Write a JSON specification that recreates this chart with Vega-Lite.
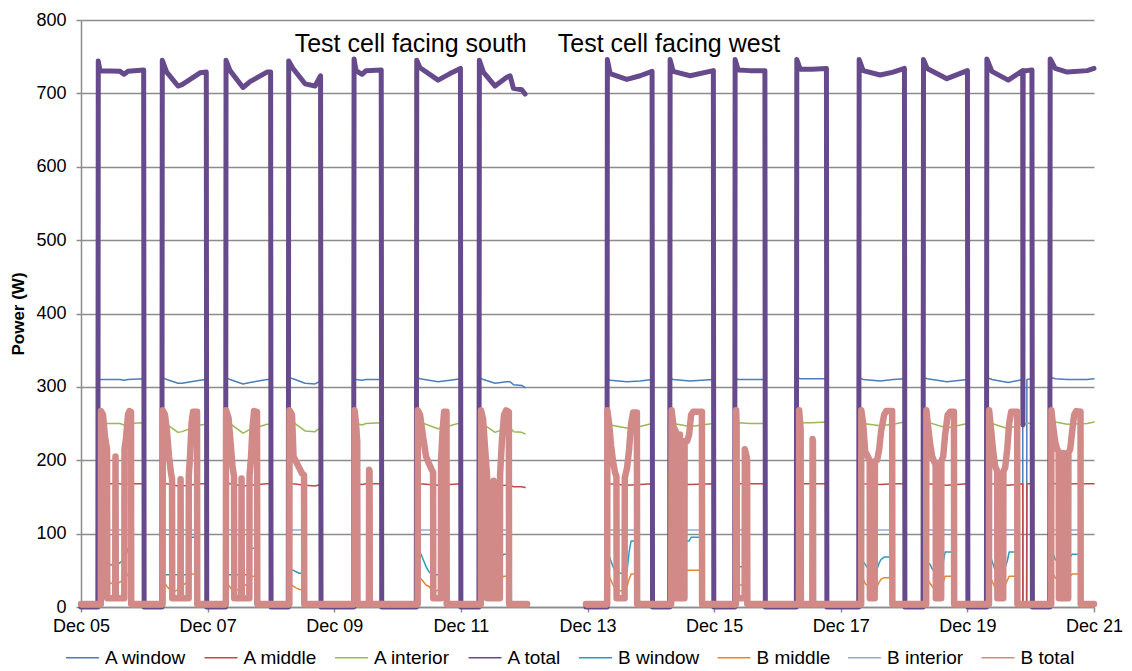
{
"$schema": "https://vega.github.io/schema/vega-lite/v6.json",
"width": 1013,
"height": 587,
"autosize": {"type": "none"},
"padding": {"left": 81, "top": 20, "right": 38, "bottom": 64},
"background": "white",
"config": {"view": {"stroke": null}, "font": "Liberation Sans", "line": {"strokeJoin": "round", "strokeCap": "round"}},
"datasets": {
"A": [
{"day":5.000,"A window":0,"A middle":0,"A interior":0,"A total":0},
{"day":5.266,"A window":0,"A middle":0,"A interior":0,"A total":0},
{"day":5.273,"A window":313,"A middle":170,"A interior":253,"A total":744},
{"day":5.300,"A window":310,"A middle":168,"A interior":250,"A total":731},
{"day":5.616,"A window":310,"A middle":168,"A interior":250,"A total":730},
{"day":5.679,"A window":309,"A middle":167,"A interior":248,"A total":726},
{"day":5.742,"A window":310,"A middle":168,"A interior":250,"A total":730},
{"day":5.990,"A window":311,"A middle":168,"A interior":251,"A total":732},
{"day":5.997,"A window":0,"A middle":0,"A interior":0,"A total":0},
{"day":6.277,"A window":0,"A middle":0,"A interior":0,"A total":0},
{"day":6.284,"A window":313,"A middle":170,"A interior":253,"A total":745},
{"day":6.354,"A window":310,"A middle":168,"A interior":249,"A total":729},
{"day":6.532,"A window":305,"A middle":165,"A interior":238,"A total":710},
{"day":6.596,"A window":305,"A middle":165,"A interior":239,"A total":712},
{"day":6.880,"A window":309,"A middle":168,"A interior":248,"A total":728},
{"day":6.979,"A window":310,"A middle":168,"A interior":249,"A total":729},
{"day":6.986,"A window":0,"A middle":0,"A interior":0,"A total":0},
{"day":7.284,"A window":0,"A middle":0,"A interior":0,"A total":0},
{"day":7.291,"A window":313,"A middle":170,"A interior":253,"A total":745},
{"day":7.354,"A window":310,"A middle":168,"A interior":250,"A total":731},
{"day":7.559,"A window":304,"A middle":165,"A interior":237,"A total":708},
{"day":7.670,"A window":306,"A middle":166,"A interior":242,"A total":716},
{"day":7.938,"A window":310,"A middle":168,"A interior":249,"A total":729},
{"day":7.995,"A window":310,"A middle":168,"A interior":249,"A total":729},
{"day":8.002,"A window":0,"A middle":0,"A interior":0,"A total":0},
{"day":8.274,"A window":0,"A middle":0,"A interior":0,"A total":0},
{"day":8.281,"A window":313,"A middle":170,"A interior":253,"A total":744},
{"day":8.349,"A window":311,"A middle":168,"A interior":252,"A total":734},
{"day":8.539,"A window":305,"A middle":166,"A interior":240,"A total":713},
{"day":8.697,"A window":304,"A middle":165,"A interior":239,"A total":710},
{"day":8.784,"A window":308,"A middle":167,"A interior":245,"A total":724},
{"day":8.791,"A window":0,"A middle":0,"A interior":0,"A total":0},
{"day":9.306,"A window":0,"A middle":0,"A interior":0,"A total":0},
{"day":9.313,"A window":313,"A middle":170,"A interior":253,"A total":747},
{"day":9.344,"A window":310,"A middle":168,"A interior":250,"A total":731},
{"day":9.439,"A window":309,"A middle":167,"A interior":248,"A total":726},
{"day":9.502,"A window":310,"A middle":168,"A interior":250,"A total":731},
{"day":9.742,"A window":310,"A middle":168,"A interior":251,"A total":732},
{"day":9.750,"A window":0,"A middle":0,"A interior":0,"A total":0},
{"day":10.296,"A window":0,"A middle":0,"A interior":0,"A total":0},
{"day":10.303,"A window":313,"A middle":170,"A interior":253,"A total":745},
{"day":10.355,"A window":311,"A middle":168,"A interior":252,"A total":735},
{"day":10.640,"A window":307,"A middle":166,"A interior":243,"A total":718},
{"day":10.829,"A window":309,"A middle":167,"A interior":247,"A total":727},
{"day":10.993,"A window":311,"A middle":168,"A interior":251,"A total":734},
{"day":11.000,"A window":0,"A middle":0,"A interior":0,"A total":0},
{"day":11.285,"A window":0,"A middle":0,"A interior":0,"A total":0},
{"day":11.292,"A window":313,"A middle":170,"A interior":253,"A total":745},
{"day":11.355,"A window":310,"A middle":168,"A interior":249,"A total":729},
{"day":11.540,"A window":305,"A middle":165,"A interior":238,"A total":710},
{"day":11.725,"A window":307,"A middle":166,"A interior":244,"A total":722},
{"day":11.777,"A window":307,"A middle":166,"A interior":245,"A total":724},
{"day":11.830,"A window":303,"A middle":164,"A interior":239,"A total":707},
{"day":11.962,"A window":302,"A middle":164,"A interior":238,"A total":705},
{"day":12.014,"A window":299,"A middle":163,"A interior":236,"A total":699},
{"day":12.500,"A window":null,"A middle":null,"A interior":null,"A total":null},
{"day":12.975,"A window":0,"A middle":0,"A interior":0,"A total":0},
{"day":13.307,"A window":0,"A middle":0,"A interior":0,"A total":0},
{"day":13.314,"A window":313,"A middle":170,"A interior":253,"A total":746},
{"day":13.357,"A window":309,"A middle":168,"A interior":248,"A total":727},
{"day":13.621,"A window":307,"A middle":166,"A interior":244,"A total":719},
{"day":13.831,"A window":308,"A middle":167,"A interior":246,"A total":724},
{"day":14.020,"A window":310,"A middle":168,"A interior":250,"A total":730},
{"day":14.027,"A window":0,"A middle":0,"A interior":0,"A total":0},
{"day":14.298,"A window":0,"A middle":0,"A interior":0,"A total":0},
{"day":14.305,"A window":313,"A middle":170,"A interior":253,"A total":746},
{"day":14.352,"A window":310,"A middle":168,"A interior":250,"A total":730},
{"day":14.621,"A window":308,"A middle":167,"A interior":246,"A total":724},
{"day":14.988,"A window":310,"A middle":168,"A interior":250,"A total":731},
{"day":14.995,"A window":0,"A middle":0,"A interior":0,"A total":0},
{"day":15.325,"A window":0,"A middle":0,"A interior":0,"A total":0},
{"day":15.332,"A window":313,"A middle":170,"A interior":253,"A total":746},
{"day":15.380,"A window":310,"A middle":168,"A interior":251,"A total":732},
{"day":15.569,"A window":310,"A middle":168,"A interior":250,"A total":731},
{"day":15.802,"A window":310,"A middle":168,"A interior":250,"A total":731},
{"day":15.809,"A window":0,"A middle":0,"A interior":0,"A total":0},
{"day":16.299,"A window":0,"A middle":0,"A interior":0,"A total":0},
{"day":16.306,"A window":313,"A middle":170,"A interior":253,"A total":746},
{"day":16.359,"A window":311,"A middle":168,"A interior":251,"A total":733},
{"day":16.548,"A window":311,"A middle":168,"A interior":251,"A total":733},
{"day":16.774,"A window":311,"A middle":168,"A interior":252,"A total":734},
{"day":16.781,"A window":0,"A middle":0,"A interior":0,"A total":0},
{"day":17.284,"A window":0,"A middle":0,"A interior":0,"A total":0},
{"day":17.291,"A window":313,"A middle":170,"A interior":253,"A total":746},
{"day":17.354,"A window":310,"A middle":168,"A interior":250,"A total":731},
{"day":17.622,"A window":308,"A middle":167,"A interior":247,"A total":725},
{"day":17.828,"A window":310,"A middle":168,"A interior":249,"A total":729},
{"day":18.006,"A window":311,"A middle":168,"A interior":252,"A total":734},
{"day":18.013,"A window":0,"A middle":0,"A interior":0,"A total":0},
{"day":18.300,"A window":0,"A middle":0,"A interior":0,"A total":0},
{"day":18.307,"A window":313,"A middle":170,"A interior":253,"A total":746},
{"day":18.365,"A window":311,"A middle":168,"A interior":252,"A total":734},
{"day":18.676,"A window":307,"A middle":166,"A interior":244,"A total":720},
{"day":19.001,"A window":310,"A middle":168,"A interior":250,"A total":731},
{"day":19.008,"A window":0,"A middle":0,"A interior":0,"A total":0},
{"day":19.301,"A window":0,"A middle":0,"A interior":0,"A total":0},
{"day":19.308,"A window":313,"A middle":170,"A interior":253,"A total":747},
{"day":19.387,"A window":310,"A middle":168,"A interior":250,"A total":730},
{"day":19.645,"A window":306,"A middle":166,"A interior":243,"A total":718},
{"day":19.874,"A window":310,"A middle":168,"A interior":250,"A total":731},
{"day":19.877,"A window":0,"A middle":0,"A interior":248,"A total":248},
{"day":19.881,"A window":0,"A middle":0,"A interior":248,"A total":731},
{"day":19.936,"A window":0,"A middle":0,"A interior":250,"A total":731},
{"day":19.940,"A window":310,"A middle":168,"A interior":250,"A total":731},
{"day":20.020,"A window":311,"A middle":168,"A interior":251,"A total":732},
{"day":20.027,"A window":0,"A middle":0,"A interior":0,"A total":0},
{"day":20.301,"A window":0,"A middle":0,"A interior":0,"A total":0},
{"day":20.308,"A window":313,"A middle":170,"A interior":253,"A total":747},
{"day":20.387,"A window":311,"A middle":168,"A interior":252,"A total":734},
{"day":20.577,"A window":310,"A middle":168,"A interior":249,"A total":729},
{"day":20.893,"A window":310,"A middle":168,"A interior":250,"A total":731},
{"day":21.000,"A window":311,"A middle":168,"A interior":252,"A total":734}
],
"B": [
{"day":5.000,"B window":0,"B middle":0,"B interior":3,"B total":4},
{"day":5.313,"B window":0,"B middle":0,"B interior":3,"B total":4},
{"day":5.316,"B window":70,"B middle":40,"B interior":105,"B total":267},
{"day":5.348,"B window":68,"B middle":40,"B interior":105,"B total":262},
{"day":5.379,"B window":72,"B middle":42,"B interior":105,"B total":232},
{"day":5.411,"B window":60,"B middle":35,"B interior":105,"B total":215},
{"day":5.415,"B window":60,"B middle":35,"B interior":105,"B total":12},
{"day":5.540,"B window":55,"B middle":30,"B interior":105,"B total":12},
{"day":5.545,"B window":55,"B middle":30,"B interior":105,"B total":205},
{"day":5.550,"B window":56,"B middle":30,"B interior":105,"B total":12},
{"day":5.684,"B window":65,"B middle":38,"B interior":105,"B total":12},
{"day":5.687,"B window":65,"B middle":38,"B interior":105,"B total":215},
{"day":5.711,"B window":70,"B middle":40,"B interior":105,"B total":230},
{"day":5.742,"B window":80,"B middle":45,"B interior":105,"B total":262},
{"day":5.766,"B window":80,"B middle":45,"B interior":105,"B total":267},
{"day":5.790,"B window":80,"B middle":45,"B interior":105,"B total":266},
{"day":5.793,"B window":0,"B middle":0,"B interior":3,"B total":4},
{"day":6.289,"B window":0,"B middle":0,"B interior":3,"B total":4},
{"day":6.292,"B window":44,"B middle":35,"B interior":105,"B total":268},
{"day":6.327,"B window":44,"B middle":32,"B interior":105,"B total":262},
{"day":6.359,"B window":44,"B middle":28,"B interior":105,"B total":238},
{"day":6.390,"B window":44,"B middle":25,"B interior":105,"B total":205},
{"day":6.422,"B window":44,"B middle":22,"B interior":105,"B total":182},
{"day":6.438,"B window":44,"B middle":20,"B interior":105,"B total":175},
{"day":6.441,"B window":44,"B middle":20,"B interior":105,"B total":12},
{"day":6.569,"B window":44,"B middle":25,"B interior":105,"B total":12},
{"day":6.573,"B window":44,"B middle":25,"B interior":105,"B total":174},
{"day":6.578,"B window":44,"B middle":28,"B interior":105,"B total":12},
{"day":6.700,"B window":44,"B middle":35,"B interior":105,"B total":12},
{"day":6.703,"B window":95,"B middle":40,"B interior":105,"B total":180},
{"day":6.722,"B window":95,"B middle":42,"B interior":105,"B total":205},
{"day":6.746,"B window":95,"B middle":45,"B interior":105,"B total":250},
{"day":6.769,"B window":95,"B middle":45,"B interior":105,"B total":266},
{"day":6.833,"B window":95,"B middle":45,"B interior":105,"B total":266},
{"day":6.836,"B window":0,"B middle":0,"B interior":3,"B total":4},
{"day":7.288,"B window":0,"B middle":0,"B interior":3,"B total":4},
{"day":7.291,"B window":44,"B middle":32,"B interior":105,"B total":268},
{"day":7.330,"B window":44,"B middle":30,"B interior":105,"B total":258},
{"day":7.362,"B window":44,"B middle":26,"B interior":105,"B total":225},
{"day":7.393,"B window":44,"B middle":22,"B interior":105,"B total":192},
{"day":7.417,"B window":44,"B middle":22,"B interior":105,"B total":178},
{"day":7.420,"B window":44,"B middle":22,"B interior":105,"B total":12},
{"day":7.531,"B window":44,"B middle":25,"B interior":105,"B total":12},
{"day":7.536,"B window":44,"B middle":25,"B interior":105,"B total":175},
{"day":7.540,"B window":44,"B middle":28,"B interior":105,"B total":12},
{"day":7.659,"B window":44,"B middle":32,"B interior":105,"B total":12},
{"day":7.662,"B window":80,"B middle":38,"B interior":105,"B total":180},
{"day":7.686,"B window":80,"B middle":40,"B interior":105,"B total":205},
{"day":7.709,"B window":80,"B middle":42,"B interior":105,"B total":245},
{"day":7.733,"B window":80,"B middle":42,"B interior":105,"B total":267},
{"day":7.780,"B window":80,"B middle":42,"B interior":105,"B total":266},
{"day":7.784,"B window":0,"B middle":0,"B interior":3,"B total":4},
{"day":8.291,"B window":0,"B middle":0,"B interior":3,"B total":4},
{"day":8.294,"B window":50,"B middle":30,"B interior":105,"B total":268},
{"day":8.333,"B window":50,"B middle":30,"B interior":105,"B total":262},
{"day":8.357,"B window":50,"B middle":28,"B interior":105,"B total":205},
{"day":8.397,"B window":48,"B middle":26,"B interior":105,"B total":198},
{"day":8.444,"B window":46,"B middle":24,"B interior":105,"B total":190},
{"day":8.491,"B window":46,"B middle":24,"B interior":105,"B total":182},
{"day":8.523,"B window":46,"B middle":24,"B interior":105,"B total":180},
{"day":8.526,"B window":0,"B middle":0,"B interior":3,"B total":4},
{"day":9.318,"B window":0,"B middle":0,"B interior":3,"B total":4},
{"day":9.321,"B window":50,"B middle":28,"B interior":105,"B total":268},
{"day":9.344,"B window":50,"B middle":28,"B interior":105,"B total":250},
{"day":9.363,"B window":50,"B middle":28,"B interior":105,"B total":225},
{"day":9.367,"B window":0,"B middle":0,"B interior":3,"B total":4},
{"day":9.548,"B window":0,"B middle":0,"B interior":3,"B total":4},
{"day":9.551,"B window":0,"B middle":0,"B interior":3,"B total":187},
{"day":9.558,"B window":0,"B middle":0,"B interior":3,"B total":185},
{"day":9.561,"B window":0,"B middle":0,"B interior":3,"B total":4},
{"day":10.318,"B window":0,"B middle":0,"B interior":3,"B total":4},
{"day":10.321,"B window":75,"B middle":40,"B interior":105,"B total":268},
{"day":10.355,"B window":75,"B middle":40,"B interior":105,"B total":262},
{"day":10.403,"B window":65,"B middle":35,"B interior":105,"B total":232},
{"day":10.450,"B window":55,"B middle":30,"B interior":105,"B total":205},
{"day":10.498,"B window":48,"B middle":28,"B interior":105,"B total":195},
{"day":10.545,"B window":44,"B middle":22,"B interior":105,"B total":186},
{"day":10.561,"B window":44,"B middle":20,"B interior":105,"B total":184},
{"day":10.564,"B window":44,"B middle":20,"B interior":105,"B total":12},
{"day":10.684,"B window":44,"B middle":25,"B interior":105,"B total":12},
{"day":10.687,"B window":50,"B middle":30,"B interior":105,"B total":200},
{"day":10.711,"B window":70,"B middle":38,"B interior":105,"B total":240},
{"day":10.735,"B window":70,"B middle":40,"B interior":105,"B total":266},
{"day":10.773,"B window":70,"B middle":40,"B interior":105,"B total":266},
{"day":10.776,"B window":0,"B middle":0,"B interior":3,"B total":4},
{"day":11.316,"B window":0,"B middle":0,"B interior":3,"B total":4},
{"day":11.319,"B window":70,"B middle":40,"B interior":105,"B total":268},
{"day":11.351,"B window":70,"B middle":40,"B interior":105,"B total":256},
{"day":11.382,"B window":55,"B middle":30,"B interior":105,"B total":217},
{"day":11.414,"B window":44,"B middle":22,"B interior":105,"B total":178},
{"day":11.417,"B window":44,"B middle":22,"B interior":105,"B total":12},
{"day":11.512,"B window":44,"B middle":20,"B interior":105,"B total":12},
{"day":11.517,"B window":44,"B middle":20,"B interior":105,"B total":172},
{"day":11.521,"B window":44,"B middle":20,"B interior":105,"B total":12},
{"day":11.616,"B window":44,"B middle":30,"B interior":105,"B total":12},
{"day":11.619,"B window":50,"B middle":32,"B interior":105,"B total":180},
{"day":11.651,"B window":70,"B middle":40,"B interior":105,"B total":230},
{"day":11.682,"B window":72,"B middle":42,"B interior":105,"B total":262},
{"day":11.714,"B window":72,"B middle":42,"B interior":105,"B total":268},
{"day":11.758,"B window":72,"B middle":42,"B interior":105,"B total":266},
{"day":11.761,"B window":0,"B middle":0,"B interior":3,"B total":4},
{"day":12.046,"B window":0,"B middle":0,"B interior":3,"B total":4},
{"day":12.500,"B window":null,"B middle":null,"B interior":null,"B total":null},
{"day":12.975,"B window":0,"B middle":0,"B interior":3,"B total":4},
{"day":13.311,"B window":0,"B middle":0,"B interior":3,"B total":4},
{"day":13.314,"B window":72,"B middle":45,"B interior":105,"B total":268},
{"day":13.341,"B window":70,"B middle":42,"B interior":105,"B total":250},
{"day":13.373,"B window":62,"B middle":36,"B interior":105,"B total":220},
{"day":13.404,"B window":55,"B middle":30,"B interior":105,"B total":198},
{"day":13.436,"B window":49,"B middle":25,"B interior":105,"B total":183},
{"day":13.457,"B window":47,"B middle":22,"B interior":105,"B total":178},
{"day":13.460,"B window":47,"B middle":22,"B interior":105,"B total":12},
{"day":13.586,"B window":45,"B middle":22,"B interior":105,"B total":12},
{"day":13.589,"B window":45,"B middle":22,"B interior":105,"B total":176},
{"day":13.626,"B window":50,"B middle":28,"B interior":105,"B total":190},
{"day":13.657,"B window":75,"B middle":38,"B interior":105,"B total":215},
{"day":13.689,"B window":90,"B middle":45,"B interior":105,"B total":250},
{"day":13.720,"B window":90,"B middle":45,"B interior":105,"B total":265},
{"day":13.780,"B window":90,"B middle":45,"B interior":105,"B total":265},
{"day":13.784,"B window":0,"B middle":0,"B interior":3,"B total":4},
{"day":14.322,"B window":0,"B middle":0,"B interior":3,"B total":4},
{"day":14.329,"B window":85,"B middle":48,"B interior":105,"B total":268},
{"day":14.360,"B window":85,"B middle":48,"B interior":105,"B total":245},
{"day":14.392,"B window":82,"B middle":48,"B interior":105,"B total":240},
{"day":14.395,"B window":82,"B middle":48,"B interior":105,"B total":12},
{"day":14.455,"B window":75,"B middle":46,"B interior":105,"B total":12},
{"day":14.460,"B window":75,"B middle":46,"B interior":105,"B total":235},
{"day":14.464,"B window":75,"B middle":46,"B interior":105,"B total":12},
{"day":14.531,"B window":85,"B middle":48,"B interior":105,"B total":12},
{"day":14.534,"B window":85,"B middle":48,"B interior":105,"B total":226},
{"day":14.574,"B window":90,"B middle":50,"B interior":105,"B total":226},
{"day":14.605,"B window":90,"B middle":50,"B interior":105,"B total":235},
{"day":14.637,"B window":95,"B middle":50,"B interior":105,"B total":262},
{"day":14.668,"B window":95,"B middle":50,"B interior":105,"B total":266},
{"day":14.807,"B window":95,"B middle":50,"B interior":105,"B total":266},
{"day":14.810,"B window":0,"B middle":0,"B interior":3,"B total":4},
{"day":15.344,"B window":0,"B middle":0,"B interior":3,"B total":4},
{"day":15.348,"B window":55,"B middle":30,"B interior":105,"B total":268},
{"day":15.355,"B window":55,"B middle":30,"B interior":105,"B total":250},
{"day":15.360,"B window":55,"B middle":30,"B interior":105,"B total":12},
{"day":15.482,"B window":55,"B middle":30,"B interior":105,"B total":12},
{"day":15.485,"B window":55,"B middle":30,"B interior":105,"B total":215},
{"day":15.513,"B window":55,"B middle":30,"B interior":105,"B total":205},
{"day":15.521,"B window":55,"B middle":30,"B interior":105,"B total":200},
{"day":15.524,"B window":0,"B middle":0,"B interior":3,"B total":4},
{"day":16.340,"B window":0,"B middle":0,"B interior":3,"B total":4},
{"day":16.343,"B window":0,"B middle":0,"B interior":3,"B total":268},
{"day":16.367,"B window":0,"B middle":0,"B interior":3,"B total":242},
{"day":16.370,"B window":0,"B middle":0,"B interior":3,"B total":4},
{"day":16.551,"B window":0,"B middle":0,"B interior":3,"B total":4},
{"day":16.555,"B window":0,"B middle":0,"B interior":3,"B total":229},
{"day":16.561,"B window":0,"B middle":0,"B interior":3,"B total":225},
{"day":16.564,"B window":0,"B middle":0,"B interior":3,"B total":4},
{"day":17.322,"B window":0,"B middle":0,"B interior":3,"B total":4},
{"day":17.325,"B window":65,"B middle":40,"B interior":105,"B total":268},
{"day":17.354,"B window":62,"B middle":38,"B interior":105,"B total":250},
{"day":17.386,"B window":58,"B middle":32,"B interior":105,"B total":212},
{"day":17.433,"B window":52,"B middle":28,"B interior":105,"B total":204},
{"day":17.457,"B window":48,"B middle":25,"B interior":105,"B total":200},
{"day":17.460,"B window":48,"B middle":25,"B interior":105,"B total":12},
{"day":17.536,"B window":46,"B middle":22,"B interior":105,"B total":12},
{"day":17.539,"B window":46,"B middle":22,"B interior":105,"B total":199},
{"day":17.575,"B window":52,"B middle":28,"B interior":105,"B total":200},
{"day":17.607,"B window":60,"B middle":34,"B interior":105,"B total":215},
{"day":17.638,"B window":65,"B middle":38,"B interior":105,"B total":240},
{"day":17.686,"B window":68,"B middle":40,"B interior":105,"B total":262},
{"day":17.717,"B window":68,"B middle":40,"B interior":105,"B total":267},
{"day":17.812,"B window":68,"B middle":40,"B interior":105,"B total":267},
{"day":17.815,"B window":0,"B middle":0,"B interior":3,"B total":4},
{"day":18.349,"B window":0,"B middle":0,"B interior":3,"B total":4},
{"day":18.352,"B window":62,"B middle":40,"B interior":105,"B total":268},
{"day":18.381,"B window":60,"B middle":36,"B interior":105,"B total":245},
{"day":18.412,"B window":58,"B middle":32,"B interior":105,"B total":222},
{"day":18.444,"B window":52,"B middle":28,"B interior":105,"B total":205},
{"day":18.491,"B window":48,"B middle":24,"B interior":105,"B total":195},
{"day":18.499,"B window":48,"B middle":24,"B interior":105,"B total":193},
{"day":18.502,"B window":48,"B middle":24,"B interior":105,"B total":12},
{"day":18.586,"B window":50,"B middle":26,"B interior":105,"B total":12},
{"day":18.589,"B window":50,"B middle":26,"B interior":105,"B total":199},
{"day":18.618,"B window":60,"B middle":34,"B interior":105,"B total":205},
{"day":18.649,"B window":75,"B middle":42,"B interior":105,"B total":235},
{"day":18.689,"B window":75,"B middle":42,"B interior":105,"B total":262},
{"day":18.728,"B window":75,"B middle":42,"B interior":105,"B total":266},
{"day":18.788,"B window":75,"B middle":42,"B interior":105,"B total":266},
{"day":18.791,"B window":0,"B middle":0,"B interior":3,"B total":4},
{"day":19.341,"B window":0,"B middle":0,"B interior":3,"B total":4},
{"day":19.344,"B window":70,"B middle":42,"B interior":105,"B total":268},
{"day":19.376,"B window":66,"B middle":38,"B interior":105,"B total":240},
{"day":19.408,"B window":58,"B middle":32,"B interior":105,"B total":212},
{"day":19.439,"B window":50,"B middle":26,"B interior":105,"B total":192},
{"day":19.471,"B window":46,"B middle":24,"B interior":105,"B total":185},
{"day":19.474,"B window":46,"B middle":24,"B interior":105,"B total":12},
{"day":19.566,"B window":48,"B middle":26,"B interior":105,"B total":12},
{"day":19.569,"B window":48,"B middle":26,"B interior":105,"B total":185},
{"day":19.597,"B window":55,"B middle":30,"B interior":105,"B total":190},
{"day":19.629,"B window":62,"B middle":36,"B interior":105,"B total":215},
{"day":19.660,"B window":75,"B middle":42,"B interior":105,"B total":250},
{"day":19.692,"B window":75,"B middle":42,"B interior":105,"B total":266},
{"day":19.787,"B window":75,"B middle":42,"B interior":105,"B total":266},
{"day":19.790,"B window":0,"B middle":0,"B interior":3,"B total":4},
{"day":20.324,"B window":0,"B middle":0,"B interior":3,"B total":4},
{"day":20.327,"B window":70,"B middle":45,"B interior":105,"B total":268},
{"day":20.356,"B window":72,"B middle":45,"B interior":105,"B total":245},
{"day":20.387,"B window":65,"B middle":40,"B interior":105,"B total":225},
{"day":20.419,"B window":62,"B middle":38,"B interior":105,"B total":215},
{"day":20.442,"B window":62,"B middle":38,"B interior":105,"B total":212},
{"day":20.446,"B window":62,"B middle":38,"B interior":105,"B total":12},
{"day":20.513,"B window":62,"B middle":38,"B interior":105,"B total":12},
{"day":20.517,"B window":62,"B middle":38,"B interior":105,"B total":210},
{"day":20.523,"B window":62,"B middle":38,"B interior":105,"B total":12},
{"day":20.592,"B window":64,"B middle":40,"B interior":105,"B total":12},
{"day":20.596,"B window":66,"B middle":40,"B interior":105,"B total":210},
{"day":20.624,"B window":68,"B middle":42,"B interior":105,"B total":215},
{"day":20.656,"B window":72,"B middle":45,"B interior":105,"B total":240},
{"day":20.687,"B window":72,"B middle":45,"B interior":105,"B total":262},
{"day":20.719,"B window":72,"B middle":45,"B interior":105,"B total":267},
{"day":20.787,"B window":72,"B middle":45,"B interior":105,"B total":266},
{"day":20.790,"B window":0,"B middle":0,"B interior":3,"B total":4},
{"day":21.000,"B window":0,"B middle":0,"B interior":3,"B total":4}
]
},
"encoding": {
"x": {"field": "day", "type": "quantitative", "scale": {"domain": [5, 21], "nice": false, "zero": false},
"axis": {"values": [5, 7, 9, 11, 13, 15, 17, 19, 21], "labelExpr": "'Dec ' + (datum.value < 10 ? '0' : '') + datum.value", "title": null, "grid": false, "domainColor": "#8c8c8c", "domainWidth": 1.5, "tickColor": "#8c8c8c", "tickWidth": 1.5, "tickSize": 5, "labelFontSize": 18, "labelColor": "#000000", "labelPadding": 5, "labelFlush": false, "labelOverlap": false}},
"y": {"field": "power", "type": "quantitative", "scale": {"domain": [0, 800], "nice": false},
"axis": {"values": [0, 100, 200, 300, 400, 500, 600, 700, 800], "title": "Power (W)", "grid": true, "gridColor": "#8c8c8c", "gridWidth": 1.5, "domainColor": "#8c8c8c", "domainWidth": 1.5, "tickColor": "#8c8c8c", "tickWidth": 1.5, "tickSize": 5, "labelFontSize": 18, "labelColor": "#000000", "labelPadding": 10, "titleFontSize": 17, "titleFontWeight": "bold", "titleColor": "#000000", "titleX": -63, "titleBaseline": "middle", "titleAngle": 270}},
"color": {"field": "series", "type": "nominal",
"scale": {"domain": ["A window", "A middle", "A interior", "A total", "B window", "B middle", "B interior", "B total"], "range": ["#4a7ebb", "#be4b48", "#98b954", "#664a8b", "#2e9bb8", "#e5862e", "#93a9d4", "#d18a87"]},
"legend": {"title": null, "orient": "none", "legendX": -16, "legendY": 620, "direction": "horizontal", "columns": 8, "columnPadding": 16.5, "labelFontSize": 19, "labelColor": "#000000", "labelOffset": 5, "symbolType": "stroke", "symbolSize": 1089,
"encode": {"symbols": {"strokeWidth": {"condition": {"test": "datum.value === 'A total' || datum.value === 'B total'", "value": 5}, "value": 2}}}}}
},
"layer": [
{"data": {"name": "A"}, "transform": [{"fold": ["A window"], "as": ["series", "power"]}], "mark": {"type": "line"}, "encoding": {"strokeWidth": {"value": 1.5}}},
{"data": {"name": "A"}, "transform": [{"fold": ["A middle"], "as": ["series", "power"]}], "mark": {"type": "line"}, "encoding": {"strokeWidth": {"value": 1.5}}},
{"data": {"name": "A"}, "transform": [{"fold": ["A interior"], "as": ["series", "power"]}], "mark": {"type": "line"}, "encoding": {"strokeWidth": {"value": 1.5}}},
{"data": {"name": "A"}, "transform": [{"fold": ["A total"], "as": ["series", "power"]}], "mark": {"type": "line"}, "encoding": {"strokeWidth": {"value": 5}}},
{"data": {"name": "B"}, "transform": [{"fold": ["B window"], "as": ["series", "power"]}], "mark": {"type": "line"}, "encoding": {"strokeWidth": {"value": 1.5}}},
{"data": {"name": "B"}, "transform": [{"fold": ["B middle"], "as": ["series", "power"]}], "mark": {"type": "line"}, "encoding": {"strokeWidth": {"value": 1.5}}},
{"data": {"name": "B"}, "transform": [{"fold": ["B interior"], "as": ["series", "power"]}], "mark": {"type": "line"}, "encoding": {"strokeWidth": {"value": 1.5}}},
{"data": {"name": "B"}, "transform": [{"fold": ["B total"], "as": ["series", "power"]}], "mark": {"type": "line"}, "encoding": {"strokeWidth": {"value": 6.5}}},
{"data": {"values": [{"day": 12.262}]}, "mark": {"type": "rule", "strokeWidth": 3.5}, "encoding": {"y": {"datum": 0}, "y2": {"datum": 800}, "color": {"value": "#a3a3a3"}}},
{"data": {"values": [{"day": 12.262, "power": 757, "label": "Test cell facing south"}]}, "mark": {"type": "text", "align": "right", "baseline": "alphabetic", "dx": -14, "fontSize": 25, "font": "Liberation Sans"}, "encoding": {"text": {"field": "label"}, "color": {"value": "#000000"}}},
{"data": {"values": [{"day": 12.262, "power": 757, "label": "Test cell facing west"}]}, "mark": {"type": "text", "align": "left", "baseline": "alphabetic", "dx": 17, "fontSize": 25, "font": "Liberation Sans"}, "encoding": {"text": {"field": "label"}, "color": {"value": "#000000"}}}
]
}
